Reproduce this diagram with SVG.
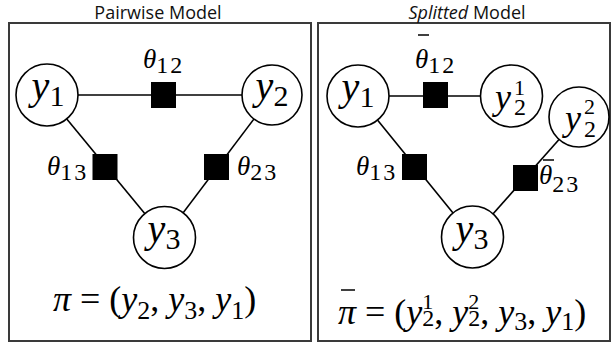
<svg xmlns="http://www.w3.org/2000/svg" width="611" height="344" viewBox="0 0 611 344">
<style>
.frame{fill:none;stroke:#3a3a3a;stroke-width:2}
.node{fill:#fff;stroke:#000;stroke-width:1.6}
.fac{fill:#000}
.edge{stroke:#000;stroke-width:1.6;fill:none}
.bar{stroke:#000;stroke-width:1.5}
</style>
<rect width="611" height="344" fill="#fff"/>
<rect class="frame" x="9" y="23" width="302" height="318"/>
<rect class="frame" x="318" y="23" width="292" height="318"/>
<g id="connectors">
<line class="edge" x1="47" y1="95" x2="272" y2="95"/>
<line class="edge" x1="47" y1="95" x2="164.5" y2="237.5"/>
<line class="edge" x1="272" y1="95" x2="164.5" y2="237.5"/>
<line class="edge" x1="358" y1="96" x2="511.5" y2="96"/>
<line class="edge" x1="358" y1="96" x2="472.5" y2="237"/>
<line class="edge" x1="472.5" y1="237" x2="579" y2="117"/>
</g>
<g id="L_y1"><circle class="node" cx="47" cy="95" r="31"/><text x="48" y="99" text-anchor="middle" font-family="'Liberation Serif', serif" font-size="40"><tspan font-style="italic">y</tspan><tspan font-size="30" dy="7">1</tspan></text></g>
<g id="L_y2"><circle class="node" cx="272" cy="95" r="30"/><text x="272" y="99" text-anchor="middle" font-family="'Liberation Serif', serif" font-size="40"><tspan font-style="italic">y</tspan><tspan font-size="30" dy="7">2</tspan></text></g>
<g id="L_y3"><circle class="node" cx="164.5" cy="237.5" r="31"/><text x="164" y="242" text-anchor="middle" font-family="'Liberation Serif', serif" font-size="40"><tspan font-style="italic">y</tspan><tspan font-size="30" dy="7">3</tspan></text></g>
<g id="L_f12"><rect class="fac" x="151" y="82" width="25" height="26"/><text x="143" y="68" font-family="'Liberation Serif', serif" font-size="27"><tspan font-style="italic">θ</tspan><tspan font-size="24" dy="5" letter-spacing="2">12</tspan></text></g>
<g id="L_f13"><rect class="fac" x="92.5" y="154" width="25" height="26"/><text x="47" y="175" font-family="'Liberation Serif', serif" font-size="27"><tspan font-style="italic">θ</tspan><tspan font-size="24" dy="5" letter-spacing="2">13</tspan></text></g>
<g id="L_f23"><rect class="fac" x="204" y="154" width="25" height="26"/><text x="237" y="175" font-family="'Liberation Serif', serif" font-size="27"><tspan font-style="italic">θ</tspan><tspan font-size="24" dy="5" letter-spacing="2">23</tspan></text></g>
<g id="R_y1"><circle class="node" cx="358" cy="96" r="31"/><text x="358" y="100" text-anchor="middle" font-family="'Liberation Serif', serif" font-size="40"><tspan font-style="italic">y</tspan><tspan font-size="30" dy="7">1</tspan></text></g>
<g id="R_y21"><circle class="node" cx="511.5" cy="96" r="31"/><text x="495" y="109" font-family="'Liberation Serif', serif" font-size="36" font-style="italic">y</text><text x="514" y="95" font-family="'Liberation Serif', serif" font-size="22">1</text><text x="514" y="115" font-family="'Liberation Serif', serif" font-size="24">2</text></g>
<g id="R_y22"><circle class="node" cx="579" cy="117" r="30"/><text x="565" y="130" font-family="'Liberation Serif', serif" font-size="36" font-style="italic">y</text><text x="584" y="114" font-family="'Liberation Serif', serif" font-size="22">2</text><text x="584" y="137" font-family="'Liberation Serif', serif" font-size="24">2</text></g>
<g id="R_y3"><circle class="node" cx="472.5" cy="237" r="31"/><text x="472" y="241.5" text-anchor="middle" font-family="'Liberation Serif', serif" font-size="40"><tspan font-style="italic">y</tspan><tspan font-size="30" dy="7">3</tspan></text></g>
<g id="R_f12"><rect class="fac" x="423" y="82" width="25" height="26"/><line class="bar" x1="418" y1="35" x2="429" y2="35"/><text x="415" y="68" font-family="'Liberation Serif', serif" font-size="27"><tspan font-style="italic">θ</tspan><tspan font-size="24" dy="5" letter-spacing="2">12</tspan></text></g>
<g id="R_f13"><rect class="fac" x="402" y="154" width="25" height="26"/><text x="356" y="175" font-family="'Liberation Serif', serif" font-size="27"><tspan font-style="italic">θ</tspan><tspan font-size="24" dy="5" letter-spacing="2">13</tspan></text></g>
<g id="R_f23"><rect class="fac" x="513" y="165" width="25" height="26"/><line class="bar" x1="543" y1="160" x2="554" y2="160"/><text x="539" y="184" font-family="'Liberation Serif', serif" font-size="27"><tspan font-style="italic">θ</tspan><tspan font-size="24" dy="8" letter-spacing="2">23</tspan></text></g>
<g id="formulas">
<text x="53" y="311" font-family="'Liberation Serif', serif" font-size="36"><tspan font-style="italic">π</tspan><tspan> = (</tspan><tspan font-style="italic">y</tspan><tspan font-size="26" dy="8">2</tspan><tspan dy="-8">, </tspan><tspan font-style="italic">y</tspan><tspan font-size="26" dy="8">3</tspan><tspan dy="-8">, </tspan><tspan font-style="italic">y</tspan><tspan font-size="26" dy="8">1</tspan><tspan dy="-8">)</tspan></text>
<line class="bar" x1="341" y1="290" x2="355" y2="290"/>
<text x="338" y="324" font-family="'Liberation Serif', serif" font-size="36"><tspan font-style="italic">π</tspan><tspan> = (</tspan><tspan font-style="italic">y</tspan><tspan font-size="22" dy="-15">1</tspan><tspan font-size="24" dx="-11" dy="17">2</tspan><tspan dy="-2">, </tspan><tspan font-style="italic">y</tspan><tspan font-size="22" dy="-15">2</tspan><tspan font-size="24" dx="-11" dy="17">2</tspan><tspan dy="-2">, </tspan><tspan font-style="italic">y</tspan><tspan font-size="26" dy="6">3</tspan><tspan dy="-6">, </tspan><tspan font-style="italic">y</tspan><tspan font-size="26" dy="6">1</tspan><tspan dy="-6">)</tspan></text>
</g>
<text x="158" y="19" text-anchor="middle" font-family="'Open Sans', sans-serif" font-size="18" fill="#111">Pairwise Model</text>
<text x="467" y="19" text-anchor="middle" font-family="'Open Sans', sans-serif" font-size="18" fill="#111"><tspan font-style="italic">Splitted</tspan> Model</text>
</svg>
